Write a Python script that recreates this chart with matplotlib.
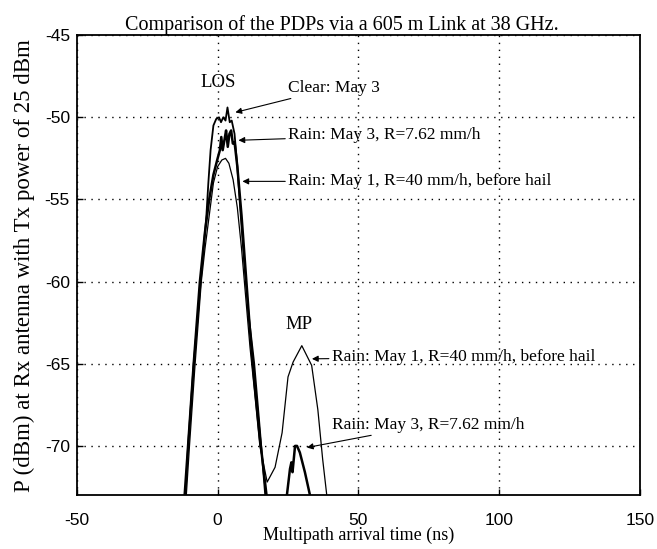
import matplotlib
matplotlib.use("Agg")
import matplotlib.pyplot as plt
import numpy as np

plt.rcParams["axes.unicode_minus"] = False

# PDP curves (x in ns, y in dBm)
clear_may3_t = [-13, -11.5, -10.5, -8.5, -6, -4, -3.3, -2.5, -1.5, -0.5, 0.5, 1.2, 2.0, 2.8, 3.5,
                4.3, 5.0, 6.0, 7.0, 8.0, 9.5, 11, 13, 15, 17, 19]
clear_may3_p = [-80, -73.2, -70, -65, -60, -56, -54, -52, -50.5, -50.1, -50.0, -50.3, -50.0, -50.2, -49.4,
                -50.3, -50.2, -51.0, -53.0, -55.5, -59, -62, -65, -69, -73.2, -80]

rain_may3_t = [-13, -11.8, -10.5, -8.5, -6.3, -4.5, -3, -1.5, 0, 0.8, 1.3, 1.8, 2.5, 3.0, 3.6, 4.2,
               4.8, 5.4, 6.0, 7.0, 8.5, 10, 11.5, 13, 15, 17.5, 19,
               23.5, 24.6, 25.7, 26.2, 26.6, 27.5, 28.2, 29.2, 31.0, 32.8, 34]
rain_may3_p = [-80, -73.2, -70, -65, -60, -57, -55, -53.5, -52.5, -52.0, -51.2, -52.0, -51.3, -50.8, -51.8, -51.0,
               -50.8, -51.6, -51.5, -53.0, -56, -59.5, -63, -66, -69.5, -73.2, -80,
               -80, -73.0, -71.4, -71.0, -71.6, -70.0, -70.0, -70.4, -71.6, -73.0, -80]

rain_may1_t = [-13, -11.2, -10, -8, -5.8, -4.5, -3, -1.5, 0, 1.5, 2.8, 4.0, 5.5, 7.0, 8.5, 10, 11.5,
               13, 15, 17.6, 20.4, 22.9, 25.0, 26.8, 29.9, 33.4, 35.6, 37.3, 38.7, 40]
rain_may1_p = [-80, -73.2, -70, -65, -60, -58, -56, -54, -53, -52.6, -52.5, -52.8, -53.8, -55.5, -58, -61, -64,
               -66.5, -70, -72.2, -71.3, -69.2, -65.8, -64.9, -63.9, -65.1, -67.8, -70.8, -72.9, -80]

xticks = [-50, 0, 50, 100, 150]
yticks = [-70, -65, -60, -55, -50, -45]

serif = ["Liberation Serif", "DejaVu Serif"]
sans = ["Liberation Sans", "DejaVu Sans"]

fig = plt.figure(figsize=(6.57, 5.49), dpi=100)
ax = fig.add_axes([0.117, 0.098, 0.857, 0.838])

ax.plot(rain_may1_t, rain_may1_p, color="k", lw=0.9)
ax.plot(clear_may3_t, clear_may3_p, color="k", lw=1.3)
ax.plot(rain_may3_t, rain_may3_p, color="k", lw=1.8)

ax.set_xlim(-50, 150)
ax.set_ylim(-73, -45)
ax.set_xticks(xticks)
ax.set_yticks(yticks)
ax.grid(True, color="k", linestyle=(0, (1, 4)), lw=1.0)
ax.tick_params(direction="in", length=4, width=1, labelsize=12.5)
ax.tick_params(axis="x", pad=13)
ax.tick_params(axis="y", pad=5)
for lab in ax.get_xticklabels() + ax.get_yticklabels():
    lab.set_family(sans)
for s in ax.spines.values():
    s.set_linewidth(1.3)

ax.set_title("Comparison of the PDPs via a 605 m Link at 38 GHz.", family=serif, fontsize=14.5,
             x=0.47, pad=4)
ax.set_xlabel("Multipath arrival time (ns)", family=serif, fontsize=13, labelpad=-1)
ax.set_ylabel("P (dBm) at Rx antenna with Tx power of 25 dBm", family=serif, fontsize=16.5, labelpad=7)

arrow = dict(arrowstyle="-|>", color="k", lw=0.8, mutation_scale=9, shrinkA=0, shrinkB=0)
ann_kw = dict(family=serif, fontsize=12.5, va="center", ha="left")

ax.text(0.3, -47.9, "LOS", family=serif, fontsize=13.5, ha="center", va="center")
ax.text(29, -62.6, "MP", family=serif, fontsize=13.5, ha="center", va="center")

ax.annotate("Clear: May 3", xy=(6.3, -49.7), xytext=(25, -48.2), arrowprops=arrow, **ann_kw)
ax.annotate("Rain: May 3, R=7.62 mm/h", xy=(7.4, -51.4), xytext=(25, -51.1), arrowprops=arrow, **ann_kw)
ax.annotate("Rain: May 1, R=40 mm/h, before hail", xy=(8.8, -53.9), xytext=(25, -53.9),
            arrowprops=arrow, **ann_kw)
t = ax.annotate("Rain: May 1, R=40 mm/h, before hail", xy=(33.5, -64.7), xytext=(40.5, -64.6),
                arrowprops=arrow, **ann_kw)
t.set_clip_on(True)
ax.annotate("Rain: May 3, R=7.62 mm/h", xy=(31.7, -70.1), xytext=(40.5, -68.7),
            arrowprops=arrow, **ann_kw)

fig.savefig("out.png", dpi=100)
